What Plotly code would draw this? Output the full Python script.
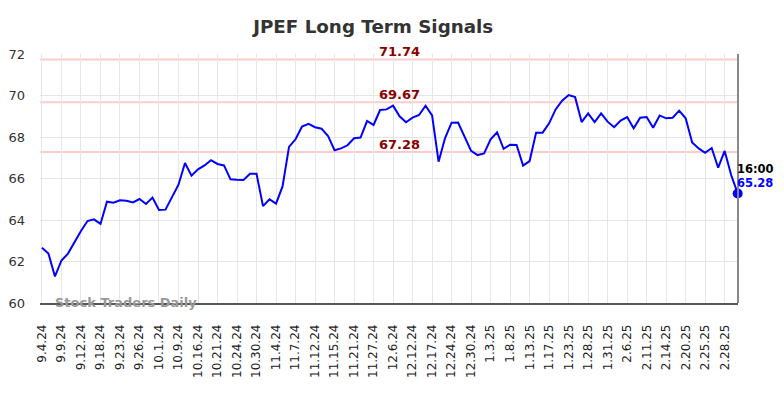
import plotly.graph_objects as go

values = [62.66, 62.38, 61.28, 62.05, 62.38, 62.95, 63.47, 63.95, 64.03, 63.81,
          64.88, 64.83, 64.95, 64.93, 64.85, 65.01, 64.77, 65.08, 64.48, 64.50,
          65.12, 65.70, 66.75, 66.14, 66.44, 66.63, 66.88, 66.70, 66.63, 65.96,
          65.94, 65.93, 66.23, 66.23, 64.67, 65.00, 64.79, 65.62, 67.52, 67.89,
          68.50, 68.63, 68.47, 68.40, 68.05, 67.36, 67.45, 67.60, 67.94, 67.97,
          68.77, 68.58, 69.30, 69.33, 69.51, 69.00, 68.71, 68.93, 69.06, 69.51,
          69.04, 66.81, 67.95, 68.69, 68.70, 68.00, 67.33, 67.13, 67.21, 67.89,
          68.23, 67.43, 67.63, 67.62, 66.62, 66.84, 68.21, 68.21, 68.66, 69.33,
          69.75, 70.02, 69.92, 68.72, 69.14, 68.72, 69.14, 68.74, 68.47, 68.79,
          68.96, 68.42, 68.93, 68.96, 68.45, 69.04, 68.90, 68.93, 69.27, 68.90,
          67.74, 67.45, 67.24, 67.47, 66.52, 67.33, 66.17, 65.28]

tick_labels = ["9.4.24", "9.9.24", "9.12.24", "9.18.24", "9.23.24", "9.26.24",
               "10.1.24", "10.9.24", "10.16.24", "10.21.24", "10.24.24", "10.30.24",
               "11.4.24", "11.7.24", "11.12.24", "11.15.24", "11.21.24", "11.27.24",
               "12.6.24", "12.12.24", "12.17.24", "12.24.24", "12.30.24", "1.3.25",
               "1.8.25", "1.13.25", "1.17.25", "1.23.25", "1.28.25", "1.31.25",
               "2.6.25", "2.11.25", "2.14.25", "2.20.25", "2.25.25", "2.28.25"]
tick_step = 3

levels = [71.74, 69.67, 67.28]
last_time = "16:00"

x = list(range(len(values)))
tickvals = [i * tick_step for i in range(len(tick_labels))]

FONT = "DejaVu Sans"

fig = go.Figure()
fig.add_trace(go.Scatter(x=x, y=values, mode="lines",
                         line=dict(color="#0000ff", width=2), hoverinfo="skip"))
fig.add_trace(go.Scatter(x=[x[-1]], y=[values[-1]], mode="markers", cliponaxis=False,
                         marker=dict(color="#0000ff", size=10), hoverinfo="skip"))

label_x = 55
for lv in levels:
    fig.add_shape(type="line", xref="paper", x0=0, x1=1, yref="y", y0=lv, y1=lv,
                  line=dict(color="#ffcccc", width=2), layer="below")
    fig.add_annotation(x=label_x, y=lv, text=f"<b>{lv:.2f}</b>", showarrow=False,
                       yanchor="bottom", yshift=-2,
                       font=dict(family=FONT, size=13, color="#8b0000"))

fig.add_annotation(x=x[-1], y=values[-1], text=f"<b>{last_time}</b>", showarrow=False,
                   xanchor="left", yanchor="middle", xshift=-3, yshift=24,
                   font=dict(family=FONT, size=11.5, color="#000000"))
fig.add_annotation(x=x[-1], y=values[-1], text=f"<b>{values[-1]:.2f}</b>", showarrow=False,
                   xanchor="left", yanchor="middle", xshift=-3, yshift=10,
                   font=dict(family=FONT, size=11.5, color="#0000ff"))

fig.add_annotation(xref="paper", yref="paper", x=0.019, y=0.004, text="<b>Stock Traders Daily</b>",
                   showarrow=False, xanchor="left", yanchor="middle",
                   font=dict(family=FONT, size=13, color="#999999"))

fig.update_layout(
    width=784, height=398,
    margin=dict(l=40, r=46, t=54, b=95, autoexpand=False),
    paper_bgcolor="white", plot_bgcolor="white",
    showlegend=False,
    title=dict(text="<b>JPEF Long Term Signals</b>", x=0.476, xanchor="center",
               y=0.932, yanchor="middle",
               font=dict(family=FONT, size=18.3, color="#333333")),
    font=dict(family=FONT),
)
fig.update_xaxes(range=[-0.3, len(values) - 1 + 0.05], tickmode="array", tickvals=tickvals,
                 ticktext=tick_labels, tickangle=-90, automargin=False,
                 showgrid=True, gridcolor="#e6e6e6", gridwidth=1,
                 showline=True, linecolor="#555555", linewidth=1.5, mirror=False,
                 zeroline=False, ticks="", ticklabelstandoff=15,
                 tickfont=dict(family=FONT, size=12, color="#222222"))
fig.update_yaxes(range=[60, 72], tickmode="array", tickvals=[60, 62, 64, 66, 68, 70, 72],
                 showgrid=True, gridcolor="#e6e6e6", gridwidth=1, automargin=False,
                 zeroline=False, showline=False, ticks="", ticklabelstandoff=14,
                 tickfont=dict(family=FONT, size=13, color="#333333"))
fig.add_shape(type="line", xref="paper", yref="paper", x0=1, x1=1, y0=0, y1=1,
              line=dict(color="#888888", width=2))

fig.write_html("out.html", config={"displayModeBar": False},
               post_script="document.body.style.margin='0';")
